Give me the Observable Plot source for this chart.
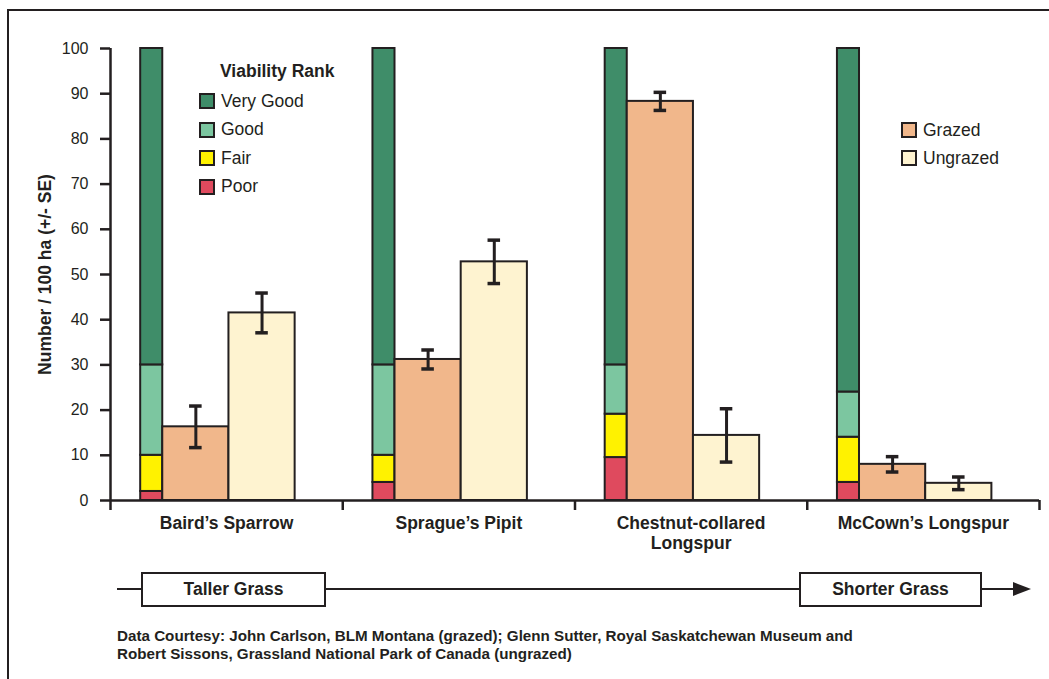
<!DOCTYPE html>
<html>
<head>
<meta charset="utf-8">
<script src="https://cdn.jsdelivr.net/npm/d3@7"></script>
<script src="https://cdn.jsdelivr.net/npm/@observablehq/plot@0.6"></script>
<style>
  body { margin: 0; background: #fff; font-family: "Liberation Sans", Arial, sans-serif; color: #231f20; }
  #page { position: relative; width: 1049px; height: 679px; overflow: hidden; background: #fff; }
  #frame { position: absolute; left: 7px; top: 9px; width: 1100px; height: 700px;
           border-top: 2.5px solid #231f20; border-left: 2.5px solid #231f20; }
  #chart { position: absolute; left: 0; top: 0; }
  .lg-title { position: absolute; font-weight: bold; font-size: 17.5px; line-height: 20px; }
  .lg-row { position: absolute; display: flex; align-items: center; font-size: 17.5px; height: 20px; white-space: nowrap; }
  .sw { width: 12px; height: 12px; border: 2px solid #231f20; margin-right: 6px; flex: none; }
  #axisline { position: absolute; left: 117px; top: 588px; width: 897px; height: 2px; background: #231f20; }
  #arrowhead { position: absolute; left: 1013px; top: 582px; width: 0; height: 0;
               border-left: 18px solid #231f20; border-top: 7.5px solid transparent; border-bottom: 7.5px solid transparent; }
  .grassbox { position: absolute; top: 572px; height: 31px; border: 2px solid #231f20; background: #fff;
              font-weight: bold; font-size: 17.5px; display: flex; align-items: center; justify-content: center; }
  #caption { position: absolute; left: 117px; top: 627px; font-weight: bold; font-size: 15.2px; line-height: 18px; white-space: nowrap; }
</style>
</head>
<body>
<div id="page">
  <div id="frame"></div>
  <div id="chart"></div>
  <div id="legends"></div>
  <div id="axisline"></div>
  <div id="arrowhead"></div>
  <div class="grassbox" style="left:141px;width:181px;">Taller Grass</div>
  <div class="grassbox" style="left:799px;width:179px;">Shorter Grass</div>
  <div id="caption">Data Courtesy: John Carlson, BLM Montana (grazed); Glenn Sutter, Royal Saskatchewan Museum and<br>Robert Sissons, Grassland National Park of Canada (ungrazed)</div>
</div>
<script>
// Species along the grass-height gradient
const species = ["Baird’s Sparrow", "Sprague’s Pipit", "Chestnut-collared Longspur", "McCown’s Longspur"];
const speciesLabels = ["Baird’s Sparrow", "Sprague’s Pipit", "Chestnut-collared\nLongspur", "McCown’s Longspur"];

// Viability rank shares (percent of populations), bottom to top
const ranks = ["Poor", "Fair", "Good", "Very Good"];
const poor = [2, 4, 9.5, 4];
const fair = [8, 6, 9.6, 10];
const good = [20, 20, 10.9, 10];
const veryGood = [70, 70, 70, 76];

// Densities (number / 100 ha) with standard errors
const treatments = ["Grazed", "Ungrazed"];
const grazed = [16.3, 31.2, 88.3, 8.0];
const grazedSE = [4.6, 2.1, 2.0, 1.7];
const ungrazed = [41.5, 52.8, 14.4, 3.8];
const ungrazedSE = [4.4, 4.8, 5.9, 1.4];

const yTicks = [0, 10, 20, 30, 40, 50, 60, 70, 80, 90, 100];

// Colours
const rankColors = {"Very Good": "#3f8d69", "Good": "#7cc6a0", "Fair": "#fff200", "Poor": "#df4a5e"};
const treatColors = {"Grazed": "#f1b78b", "Ungrazed": "#fef3d0"};
const ink = "#231f20";

// Horizontal layout inside each species group (fractions of a group's width)
const slots = {viability: [0.13, 0.225], Grazed: [0.225, 0.51], Ungrazed: [0.51, 0.795]};
const capHalf = 0.027;

// Build the stacked viability segments
const shares = {"Poor": poor, "Fair": fair, "Good": good, "Very Good": veryGood};
const viab = species.flatMap((s, i) => {
  let base = 0;
  return ranks.map(r => {
    const seg = {i, species: s, rank: r, y1: base, y2: base + shares[r][i]};
    base = seg.y2;
    return seg;
  });
});

// Density bars
const dens = species.flatMap((s, i) => [
  {i, species: s, treatment: "Grazed", value: grazed[i], se: grazedSE[i]},
  {i, species: s, treatment: "Ungrazed", value: ungrazed[i], se: ungrazedSE[i]}
]);
const center = d => d.i + (slots[d.treatment][0] + slots[d.treatment][1]) / 2;
const caps = dens.flatMap(d => [{...d, y: d.value - d.se}, {...d, y: d.value + d.se}]);

const chart = Plot.plot({
  width: 1049,
  height: 560,
  marginLeft: 110,
  marginRight: 10,
  marginTop: 48,
  marginBottom: 60,
  x: {domain: [0, species.length]},
  y: {domain: [0, 100]},
  color: {
    domain: [...Object.keys(rankColors), ...Object.keys(treatColors)],
    range: [...Object.values(rankColors), ...Object.values(treatColors)]
  },
  style: {fontFamily: "'Liberation Sans', Arial, sans-serif", fontSize: "16px", color: ink, background: "transparent"},
  marks: [
    Plot.rect(viab, {
      x1: d => d.i + slots.viability[0], x2: d => d.i + slots.viability[1],
      y1: "y1", y2: "y2", fill: "rank", stroke: ink, strokeWidth: 2
    }),
    Plot.rectY(dens, {
      x1: d => d.i + slots[d.treatment][0], x2: d => d.i + slots[d.treatment][1],
      y1: 0, y2: "value", fill: "treatment", stroke: ink, strokeWidth: 2
    }),
    Plot.ruleX(dens, {x: center, y1: d => d.value - d.se, y2: d => d.value + d.se, stroke: ink, strokeWidth: 3}),
    Plot.ruleY(caps, {x1: d => center(d) - capHalf, x2: d => center(d) + capHalf, y: "y", stroke: ink, strokeWidth: 3.5}),
    Plot.ruleX([0], {y1: 0, y2: 100, stroke: ink, strokeWidth: 2.5}),
    Plot.ruleY([0], {x1: 0, x2: species.length, stroke: ink, strokeWidth: 2.5}),
    Plot.axisY({ticks: yTicks, tickSize: 10, tickPadding: 12, fontSize: 16, stroke: ink, strokeWidth: 2.5, label: null}),
    Plot.axisX({ticks: d3.range(species.length + 1), tickSize: 10, tickFormat: () => "", stroke: ink, strokeWidth: 2.5, label: null}),
    Plot.text(speciesLabels, {
      x: (d, i) => i + 0.5, y: 0, text: d => d, dy: 14, lineAnchor: "top",
      lineHeight: 1.15, fontWeight: "bold", fontSize: 17.5, fill: ink
    }),
    Plot.text(["Number / 100 ha (+/- SE)"], {
      frameAnchor: "left", textAnchor: "middle", text: d => d, rotate: -90, dx: -65,
      fontWeight: "bold", fontSize: 17.5, fill: ink
    })
  ]
});
document.getElementById("chart").append(chart);

// Legends
const legends = document.getElementById("legends");
function addTitle(text, x, y) {
  const el = document.createElement("div");
  el.className = "lg-title";
  el.style.left = x + "px";
  el.style.top = (y - 10) + "px";
  el.textContent = text;
  legends.append(el);
}
function addRow(label, color, x, y) {
  const el = document.createElement("div");
  el.className = "lg-row";
  el.style.left = x + "px";
  el.style.top = (y - 10) + "px";
  const sw = document.createElement("div");
  sw.className = "sw";
  sw.style.background = color;
  el.append(sw, document.createTextNode(label));
  legends.append(el);
}
addTitle("Viability Rank", 220, 71);
["Very Good", "Good", "Fair", "Poor"].forEach((r, k) => addRow(r, rankColors[r], 199, 101 + k * 28.5));
treatments.forEach((t, k) => addRow(t, treatColors[t], 901, 130 + k * 28));
</script>
</body>
</html>
